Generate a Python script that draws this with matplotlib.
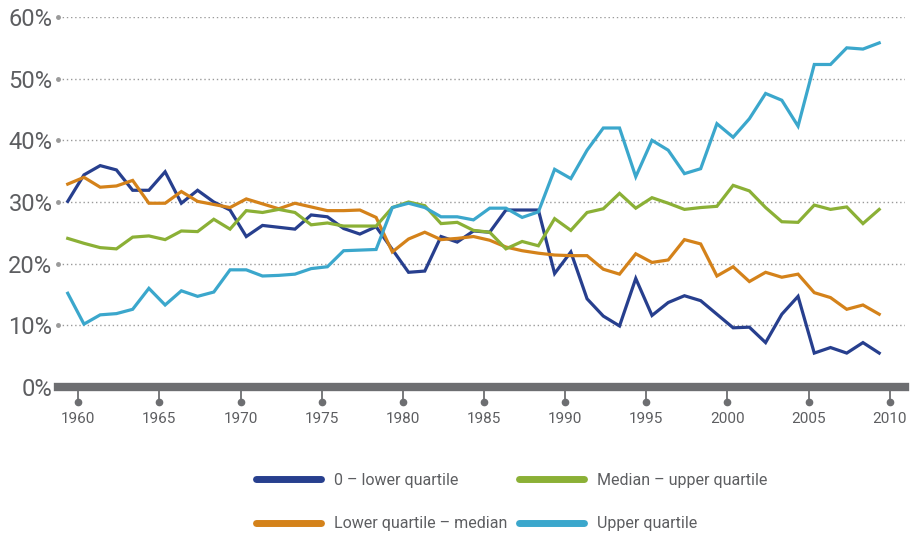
import numpy as np
import matplotlib
matplotlib.use("Agg")
from matplotlib import pyplot as plt
from matplotlib.lines import Line2D

# Data: share (%) by group, one value per year 1959-2009
years = np.arange(1959, 2010)

q_low = [30.1, 34.4, 35.9, 35.2, 31.9, 31.9, 34.9, 29.8, 31.9, 30.0,
         28.7, 24.4, 26.2, 25.9, 25.6, 27.9, 27.6, 25.7, 24.8, 26.0,
         22.3, 18.6, 18.8, 24.4, 23.5, 25.3, 25.1, 28.7, 28.7, 28.7,
         18.4, 21.9, 14.3, 11.5, 9.9, 17.6, 11.6, 13.7, 14.8, 14.0,
         11.8, 9.6, 9.7, 7.2, 11.8, 14.7, 5.5, 6.4, 5.5, 7.2, 5.5]

q_lowmed = [32.9, 34.0, 32.4, 32.6, 33.5, 29.8, 29.8, 31.7, 30.1, 29.6,
            29.1, 30.5, 29.7, 28.9, 29.8, 29.2, 28.6, 28.6, 28.7, 27.5,
            21.9, 24.0, 25.1, 23.9, 24.1, 24.4, 23.8, 22.7, 22.1, 21.7,
            21.4, 21.3, 21.3, 19.1, 18.3, 21.6, 20.2, 20.6, 23.9, 23.2,
            18.0, 19.5, 17.1, 18.6, 17.8, 18.3, 15.3, 14.5, 12.6, 13.3, 11.8]

q_medup = [24.1, 23.3, 22.6, 22.4, 24.3, 24.5, 23.9, 25.3, 25.2, 27.2,
           25.6, 28.6, 28.3, 28.8, 28.3, 26.3, 26.6, 26.1, 26.1, 26.1,
           29.1, 30.0, 29.4, 26.5, 26.7, 25.4, 25.1, 22.4, 23.6, 22.9,
           27.3, 25.4, 28.3, 28.9, 31.4, 29.0, 30.7, 29.8, 28.8, 29.1,
           29.3, 32.7, 31.8, 29.1, 26.8, 26.7, 29.5, 28.8, 29.2, 26.5, 28.8]

q_up = [15.2, 10.2, 11.7, 11.9, 12.6, 16.0, 13.3, 15.6, 14.7, 15.4,
        19.0, 19.0, 18.0, 18.1, 18.3, 19.2, 19.5, 22.1, 22.2, 22.3,
        29.1, 29.8, 29.1, 27.6, 27.6, 27.1, 29.0, 29.0, 27.5, 28.4,
        35.3, 33.8, 38.4, 42.0, 42.0, 34.1, 40.0, 38.4, 34.6, 35.4,
        42.7, 40.5, 43.5, 47.6, 46.5, 42.3, 52.3, 52.3, 55.0, 54.8, 55.8]

labels = ['0 – lower quartile', 'Lower quartile – median',
          'Median – upper quartile', 'Upper quartile']
colors = ['#273f8e', '#d4821a', '#8bb036', '#3ba7cc']
series = [q_low, q_lowmed, q_medup, q_up]

xticks = np.arange(1960, 2011, 5)
yticks = np.arange(10, 61, 10)

grey = '#6d6e71'
txt = '#5d5e61'
font = ['Roboto', 'DejaVu Sans']

fig = plt.figure(figsize=(9.16, 5.36), dpi=100)
ax = fig.add_axes([58 / 916, 1 - 387 / 536, 847 / 916, 370 / 536])

x = years + 0.35
for vals, c in zip(series, colors):
    ax.plot(x, vals, color=c, lw=2.3, solid_joinstyle='miter', zorder=3)

ax.set_xlim(1958.75, 2010.94)
ax.set_ylim(0, 60)

# dotted grid lines with a dot at the start
for yv in yticks:
    ax.axhline(yv, color='#9a9a9a', lw=1.0, ls=(0, (1, 2)), zorder=1)
ax.plot([1958.75] * len(yticks), yticks, 'o', color='#9a9a9a', ms=2.5,
        clip_on=False, zorder=1)

# thick base bar
ax.axhline(0, color=grey, lw=6, zorder=4, clip_on=False)
ax.plot(xticks, [-2.4] * len(xticks), 'o', color=grey, ms=4.5,
        clip_on=False, zorder=4)

for s in ax.spines.values():
    s.set_visible(False)

ax.set_xticks(xticks)
ax.set_xticklabels([str(v) for v in xticks], family=font, fontsize=11,
                   color=txt)
ax.tick_params(axis='x', length=10, width=1.3, color=grey, pad=8)
ax.set_yticks(list(yticks) + [0])
ax.set_yticklabels(['%d%%' % v for v in list(yticks) + [0]], family=font,
                   fontsize=17, color=txt)
ax.tick_params(axis='y', length=0, pad=4)

# legend, one column at a time
handles = [Line2D([], [], color=c, lw=5, solid_capstyle='round')
           for c in colors]
for i, x0 in enumerate([256, 519]):
    fig.legend(handles[2 * i:2 * i + 2], labels[2 * i:2 * i + 2],
               loc='center left', bbox_to_anchor=(x0 / 916, 1 - 502 / 536),
               frameon=False, prop={'family': font, 'size': 11.5},
               labelcolor=txt, handlelength=4.1, handletextpad=0.8,
               labelspacing=1.8, borderpad=0, borderaxespad=0)

fig.savefig('out.png', dpi=100)
